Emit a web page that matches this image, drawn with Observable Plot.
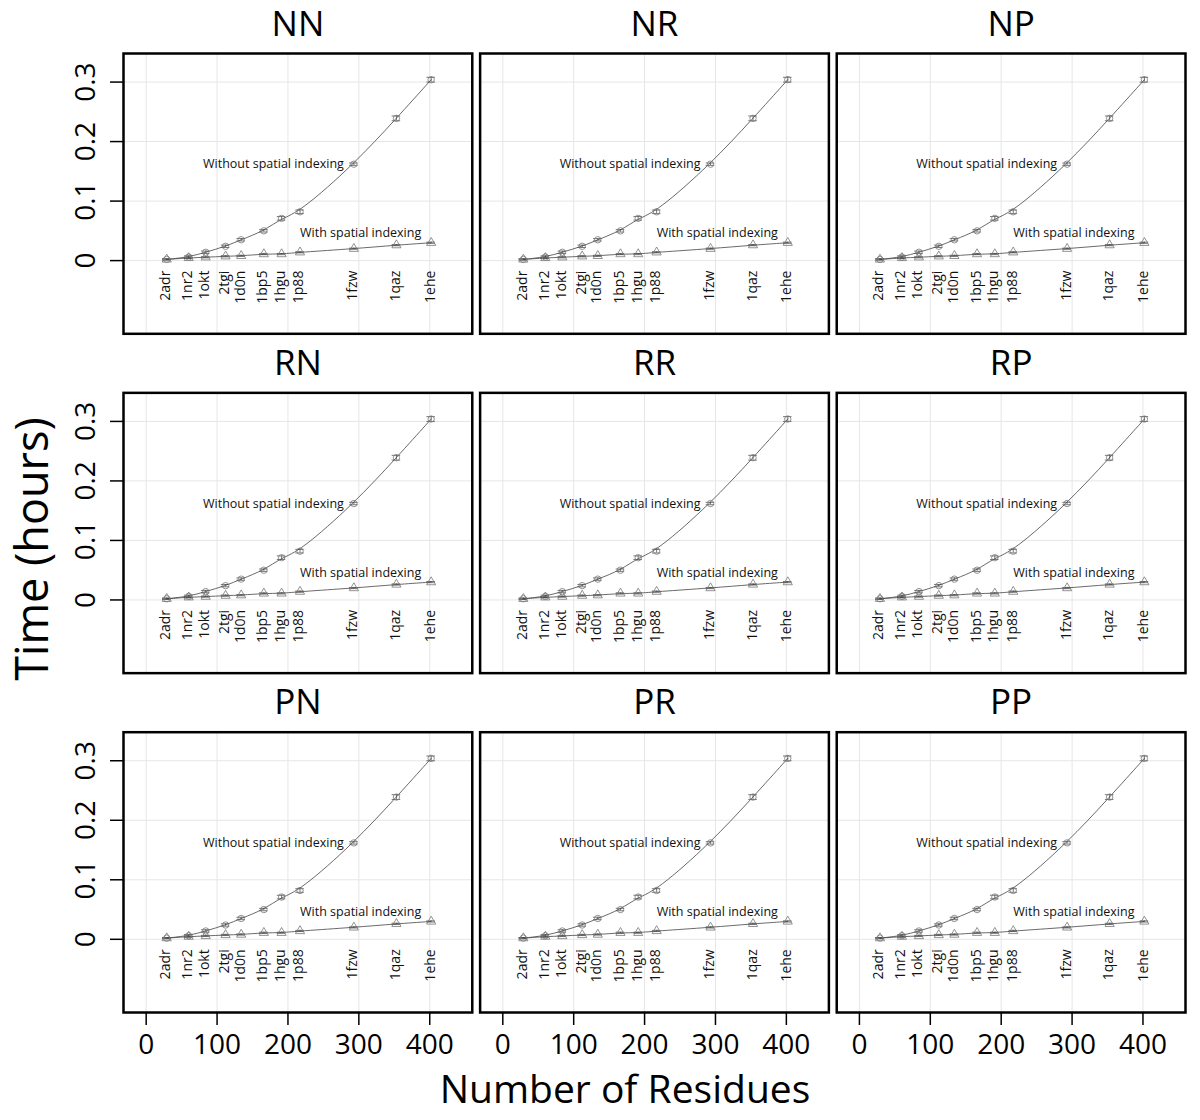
<!DOCTYPE html>
<html>
<head>
<meta charset="utf-8">
<script src="https://cdn.jsdelivr.net/npm/d3@7"></script>
<script src="https://cdn.jsdelivr.net/npm/@observablehq/plot@0.6"></script>
<style>
  html, body { margin: 0; padding: 0; background: #fff; }
  #chart { width: 1200px; height: 1120px; }
</style>
</head>
<body>
<div id="chart"></div>
<script>
// ---- data ----
const panelNames = ["NN", "NR", "NP", "RN", "RR", "RP", "PN", "PR", "PP"];
const proteins = ["2adr", "1nr2", "1okt", "2tgi", "1d0n", "1bp5", "1hgu", "1p88", "1fzw", "1qaz", "1ehe"];
const residues = [29, 60, 84, 112, 134, 166, 191, 217, 293, 353, 402];
const timeWithout = [0.002, 0.006, 0.014, 0.024, 0.035, 0.050, 0.071, 0.082, 0.162, 0.239, 0.304];
const errWithout = [0.001, 0.002, 0.002, 0.002, 0.002, 0.002, 0.003, 0.003, 0.002, 0.004, 0.004];
const timeWith = [0.002, 0.0045, 0.0056, 0.0073, 0.008, 0.011, 0.011, 0.014, 0.020, 0.026, 0.030];
const errWith = [0.001, 0.001, 0.001, 0.001, 0.001, 0.001, 0.001, 0.001, 0.001, 0.001, 0.001];
const xTicks = [0, 100, 200, 300, 400];
const yTicks = [0, 0.1, 0.2, 0.3];
const labelWithout = "Without spatial indexing";
const labelWith = "With spatial indexing";
const xTitle = "Number of Residues";
const yTitle = "Time (hours)";

// ---- build tables ----
const panels = panelNames.map((name, i) => ({name, col: i % 3, row: Math.floor(i / 3)}));
const pts = [];
for (const p of panels) {
  proteins.forEach((prot, i) => {
    pts.push({col: p.col, row: p.row, protein: prot, x: residues[i], y: timeWithout[i], err: errWithout[i], series: "without", idx: i});
    pts.push({col: p.col, row: p.row, protein: prot, x: residues[i], y: timeWith[i], err: errWith[i], series: "with", idx: i});
  });
}
const ptsWithout = pts.filter(d => d.series === "without");
const ptsWith = pts.filter(d => d.series === "with");
const capHalf = 6;
const FONT = "'Open Sans', 'Noto Sans', sans-serif";

const chart = Plot.plot({
  width: 1200,
  height: 1120,
  marginLeft: 123,
  marginRight: 15,
  marginTop: 53,
  marginBottom: 108,
  style: {fontFamily: FONT, color: "black", background: "white"},
  fx: {domain: [0, 1, 2], paddingInner: 0.022, paddingOuter: 0, round: false, axis: null},
  fy: {domain: [0, 1, 2], paddingInner: 0.174, paddingOuter: 0, round: false, axis: null},
  x: {domain: [-32, 460]},
  y: {domain: [-0.123, 0.348]},
  marks: [
    Plot.gridX(xTicks, {stroke: "#e6e6e6", strokeOpacity: 1, strokeWidth: 1}),
    Plot.gridY(yTicks, {stroke: "#e6e6e6", strokeOpacity: 1, strokeWidth: 1}),
    // error bars
    Plot.ruleX(pts, {fx: "col", fy: "row", x: "x", y1: d => d.y - d.err, y2: d => d.y + d.err, stroke: "#555", strokeWidth: 0.8}),
    Plot.ruleY(pts, {fx: "col", fy: "row", y: d => d.y - d.err, x1: d => d.x - capHalf, x2: d => d.x + capHalf, stroke: "#555", strokeWidth: 0.8}),
    Plot.ruleY(pts, {fx: "col", fy: "row", y: d => d.y + d.err, x1: d => d.x - capHalf, x2: d => d.x + capHalf, stroke: "#555", strokeWidth: 0.8}),
    // curves
    Plot.line(ptsWithout, {fx: "col", fy: "row", x: "x", y: "y", curve: "basis", stroke: "#444", strokeWidth: 0.8}),
    Plot.line(ptsWith, {fx: "col", fy: "row", x: "x", y: "y", curve: "basis", stroke: "#444", strokeWidth: 0.8}),
    // markers
    Plot.dot(ptsWithout, {fx: "col", fy: "row", x: "x", y: "y", symbol: "circle", r: 3.2, stroke: "#777", strokeWidth: 0.8, fill: "none"}),
    Plot.dot(ptsWith, {fx: "col", fy: "row", x: "x", y: "y", symbol: "triangle", r: 3.4, stroke: "#777", strokeWidth: 0.8, fill: "none"}),
    // protein labels
    Plot.text(ptsWith, {fx: "col", fy: "row", x: "x", y: () => 0, text: "protein", rotate: -90, textAnchor: "end", dy: 10, dx: -1, fontSize: 14, fill: "#111"}),
    // series labels
    Plot.text(ptsWithout.filter(d => d.idx === 8), {fx: "col", fy: "row", x: "x", y: "y", text: () => labelWithout, textAnchor: "end", dx: -10, fontSize: 12.5, fill: "#111"}),
    Plot.text(ptsWith.filter(d => d.idx === 7), {fx: "col", fy: "row", x: "x", y: "y", text: () => labelWith, textAnchor: "start", dy: -19, dx: 0, fontSize: 12.5, fill: "#111"}),
    // panel titles
    Plot.text(panels, {fx: "col", fy: "row", text: "name", frameAnchor: "top", lineAnchor: "bottom", dy: -18, fontSize: 35, fill: "black"}),
    // frame
    Plot.frame({stroke: "black", strokeWidth: 2.5}),
    // axes
    Plot.axisX({ticks: xTicks, tickSize: 13, tickPadding: 9, fontSize: 28, label: null, stroke: "black", strokeWidth: 1.5, tickFormat: d3.format("~g")}),
    Plot.axisY({ticks: yTicks, tickSize: 13, tickPadding: 16, tickRotate: -90, fontSize: 28, label: null, stroke: "black", strokeWidth: 1.5, tickFormat: d3.format("~g")})
  ]
});

const svg = d3.select(chart);
svg.append("text")
  .attr("transform", "translate(48,549) rotate(-90)")
  .attr("text-anchor", "middle")
  .attr("font-family", FONT)
  .attr("font-size", 45)
  .attr("fill", "black")
  .text(yTitle);
svg.append("text")
  .attr("x", 625)
  .attr("y", 1103)
  .attr("text-anchor", "middle")
  .attr("font-family", FONT)
  .attr("font-size", 39)
  .attr("fill", "black")
  .text(xTitle);

document.getElementById("chart").appendChild(chart);
</script>
</body>
</html>
